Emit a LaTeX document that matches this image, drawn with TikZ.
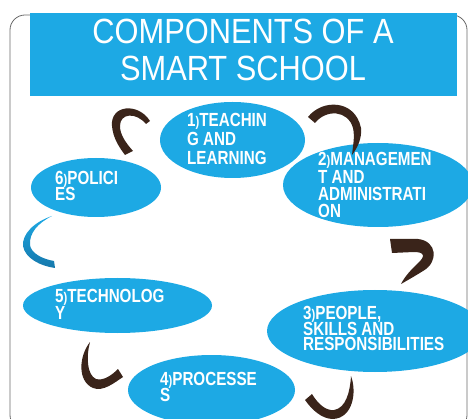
\documentclass[tikz,border=0pt]{standalone}
\usepackage{fontspec}
\setmainfont{Liberation Sans}
\newfontfamily\titlefont[FakeStretch=0.88]{Liberation Sans}
\newfontfamily\labelfont[FakeStretch=0.8]{Liberation Sans Bold}
\usetikzlibrary{shapes.geometric}

\definecolor{skyblue}{RGB}{29,169,228}
\definecolor{deepblue}{RGB}{22,120,172}
\definecolor{brushbrown}{RGB}{58,36,26}
\definecolor{framegray}{RGB}{105,105,105}

\newcommand{\lbltype}[1]{\labelfont\fontsize{19}{#1}\selectfont}
% small closing parenthesis after the item number
\newcommand{\numparen}{{\fontsize{14}{14}\selectfont)}}

\begin{document}
\lineskiplimit=-30pt\relax
\lineskip=0pt\relax
\begin{tikzpicture}[x=1pt,y=-1pt,
  comp/.style={ellipse, fill=skyblue, draw=none, inner sep=0pt},
  lbl/.style={anchor=north west, inner sep=0pt, align=left, text=white},
  brush/.style={fill=brushbrown, draw=none}]
\useasboundingbox (0,0) rectangle (468,419);

% outer frame
\draw[framegray, line width=0.8pt, rounded corners=15pt] (10,15) rectangle (467,430);

% title banner
\node[fill=skyblue, minimum width=427pt, minimum height=83pt, inner sep=0pt] (banner) at (243.5,54.5) {};
\node[anchor=north, inner sep=0pt, align=center, text=white,
      font=\titlefont\fontsize{35}{37}\selectfont]
  (title) at (243,19) {COMPONENTS OF A\\SMART SCHOOL};

% components
\node[comp, minimum width=145pt, minimum height=76pt] (e1) at (232.5,140) {};
\node[comp, minimum width=190pt, minimum height=84pt] (e2) at (378,185) {};
\node[comp, minimum width=130pt, minimum height=59pt] (e6) at (96,187.5) {};
\node[comp, minimum width=189pt, minimum height=55pt] (e5) at (117.5,305.5) {};
\node[comp, minimum width=216pt, minimum height=82pt] (e3) at (375,331) {};
\node[comp, minimum width=167pt, minimum height=70pt] (e4) at (211.5,390) {};

\node[lbl, font=\lbltype{19}]   (t1) at (187,113.5) {1\numparen TEACHIN\\G AND\\LEARNING};
\node[lbl, font=\lbltype{17.3}] (t2) at (318,152.5) {2\numparen MANAGEMEN\\T AND\\ADMINISTRATI\\ON};
\node[lbl, font=\lbltype{15.5}] (t6) at (55,171.5) {6\numparen POLICI\\ES};
\node[lbl, font=\lbltype{17}]   (t5) at (55,289.5) {5\numparen TECHNOLOG\\Y};
\node[lbl, font=\lbltype{15.5}] (t3) at (303,306.5) {3\numparen PEOPLE,\\SKILLS AND\\RESPONSIBILITIES};
\node[lbl, font=\lbltype{16}]   (t4) at (160,372.5) {4\numparen PROCESSE\\S};

% brush-stroke arcs around the cycle
\fill[brush] (150,121) .. controls (138,102) and (110,105) .. (112,126)
  .. controls (113,138) and (119,147) .. (125,155) -- (133,151)
  .. controls (126,143) and (120,135) .. (120,126)
  .. controls (120,113) and (136,112) .. (146,124) -- cycle;
\fill[brush] (308,117) .. controls (322,99) and (355,99) .. (361,128)
  .. controls (362,138) and (358,147) .. (352,155)
  .. controls (353,145) and (355,137) .. (353,128)
  .. controls (348,110) and (326,109) .. (315,123) -- cycle;
\fill[brush] (390,239) -- (418,239) .. controls (437,241) and (439,262) .. (423,271)
  .. controls (415,276) and (408,280) .. (401,284)
  .. controls (405,276) and (411,270) .. (418,263)
  .. controls (426,256) and (424,252) .. (414,252) -- (392,253) -- cycle;
\fill[brush] (90,342) .. controls (79,356) and (77,381) .. (93,388)
  .. controls (103,392) and (114,383) .. (123,377) -- (118,369)
  .. controls (111,376) and (103,381) .. (96,379)
  .. controls (87,375) and (86,357) .. (90,342) -- cycle;
\fill[brush] (351,376) .. controls (357,392) and (353,418) .. (333,419)
  .. controls (322,419) and (312,410) .. (305,400) -- (312,394)
  .. controls (318,404) and (326,411) .. (334,410)
  .. controls (346,408) and (350,392) .. (351,376) -- cycle;
\shade[top color=skyblue, bottom color=deepblue]
  (52,216) .. controls (34,222) and (22,234) .. (23,246)
  .. controls (25,258) and (40,266) .. (55,268) -- (54,261)
  .. controls (42,259) and (31,253) .. (30,245)
  .. controls (29,233) and (38,223) .. (52,216) -- cycle;
\end{tikzpicture}
\end{document}
